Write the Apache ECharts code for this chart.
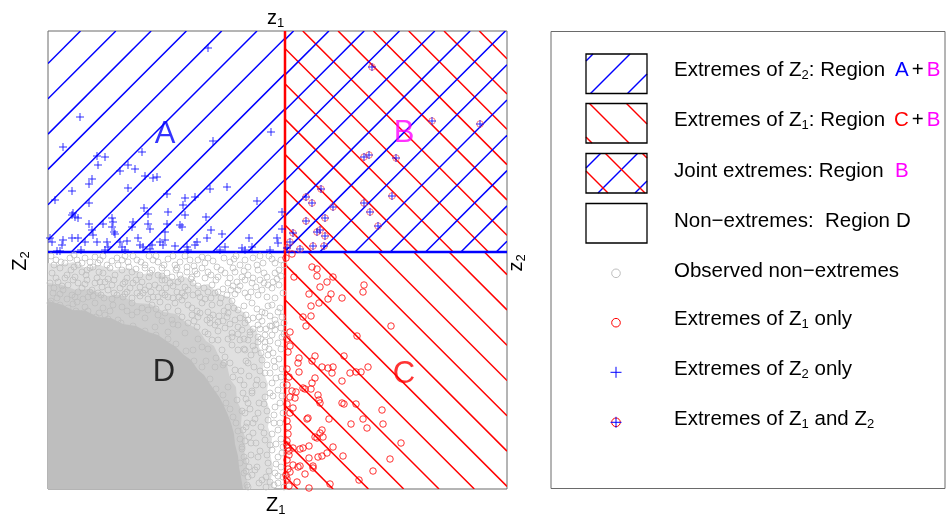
<!DOCTYPE html>
<html>
<head>
<meta charset="utf-8">
<script src="https://cdn.jsdelivr.net/npm/echarts@6/dist/echarts.min.js"></script>
<style>
html,body{margin:0;padding:0;background:#fff;}
#chart{width:950px;height:514px;}
</style>
</head>
<body>
<div id="chart"></div>
<script>
// Scale of both margins (rank-like units) and the extreme-value thresholds
const maxZ1 = 459;
const maxZ2 = 458;
const thresholdZ1 = 237;
const thresholdZ2 = 237;

// Outlines of the non-extreme sample where the points overlap completely (core),
// heavily (inner band) and partly (outer band)
const coreOutline = [
  [0,0],[0,188],[12,185],[25,179],[38,178],[50,172],[63,171],[75,165],[88,163],[100,157],[110,154],
  [120,147],[128,142],[136,134],[143,129],[150,119],[156,114],[162,105],[167,98],[172,91],[176,83],
  [180,74],[183,66],[186,55],[187,45],[190,33],[191,22],[193,12],[195,0]
];
const innerBandOutline = [
  [0,0],[0,206],[14,204],[28,199],[42,200],[58,193],[72,194],[88,186],[102,185],[116,177],[128,175],
  [140,165],[150,160],[158,148],[166,143],[172,130],[179,124],[182,110],[188,102],[189,88],[194,78],
  [193,64],[197,52],[196,38],[199,26],[198,12],[201,0]
];
const outerBandOutline = [
  [0,0],[0,226],[12,224],[25,227],[38,221],[52,224],[66,219],[80,221],[95,215],[110,217],[125,210],
  [138,212],[150,203],[160,205],[172,194],[182,192],[190,180],[197,176],[202,163],[209,158],[211,142],
  [216,132],[215,118],[220,105],[218,90],[222,78],[220,62],[224,50],[222,35],[225,22],[223,10],[226,0]
];

// Observed non-extremes around the dense bulk
const nonExtremes = [
  [17,226],[22,231],[29,229],[30,224],[37,231],[47,232],[50,226],[59,224],[69,231],[74,229],[80,227],[89,229],[97,224],[105,229],[110,227],[114,221],[132,227],[142,229],[150,229],[154,232],[160,231],[169,222],[182,227],[192,224],[200,222],[209,224],[215,226],[227,226],
  [4,216],[12,221],[19,214],[27,212],[34,217],[42,221],[55,216],[62,221],[67,214],[74,219],[84,217],[92,214],[97,221],[104,219],[110,214],[119,216],[124,212],[132,214],[144,212],[154,221],[170,212],[177,216],[187,217],[194,212],[200,214],[210,219],[219,212],[227,216],
  [2,206],[10,207],[17,211],[30,206],[39,209],[47,206],[57,207],[64,204],[77,207],[85,206],[94,207],[107,204],[114,209],[122,206],[130,207],[137,202],[145,206],[157,211],[164,204],[180,206],[189,207],[197,209],[204,206],[212,209],[220,204],[225,207],
  [5,196],[15,199],[24,194],[30,197],[40,192],[50,196],[60,199],[69,194],[79,197],[89,196],[97,199],[105,192],[114,196],[120,192],[129,197],[134,196],[140,199],[152,192],[160,197],[167,196],[179,194],[190,199],[197,196],[214,199],[224,201],[227,191],
  [2,186],[12,184],[20,181],[29,187],[37,182],[47,186],[55,181],[65,184],[74,182],[84,186],[94,181],[104,184],[112,187],[120,182],[127,186],[134,189],[144,181],[154,186],[164,184],[172,186],[180,182],[190,179],[204,186],[214,177],[224,184],[232,181],
  [144,174],[152,176],[159,169],[165,174],[170,167],[179,172],[187,169],[192,171],[205,171],[217,176],[227,169],[234,172],[4,174],[17,172],[30,176],[44,171],[57,174],[70,169],[84,174],[97,171],[110,174],[124,169],[134,172],
  [149,162],[157,157],[167,164],[177,161],[184,156],[194,159],[202,157],[210,164],[217,154],[227,159],[107,162],[120,157],[130,164],[137,156],
  [154,142],[164,149],[174,139],[184,144],[192,149],[197,139],[210,147],[217,142],[225,136],[230,146],
  [202,154],[210,152],[217,147],[224,154],[207,139],[214,129],[220,134],[227,122],[217,116],[209,109],[224,106],[230,99],[204,96],[217,92],[227,82],[210,76],[220,69],[230,59],[205,56],[217,49],[224,39],[210,32],[230,32],[220,26],[207,19],[227,16],[214,9],[230,6],[200,12],[194,42],[197,76],[192,109],[200,126],[190,139],[184,152],[170,149],[177,132],[187,119],[167,122],[180,102],[189,89],[185,72],[195,59],[192,26],[200,2],
  [196,140],[203,134],[198,128],[206,122],[193,118],[201,113],[208,104],[196,104],[204,98],[198,90],[211,86],[202,80],[194,78],[207,70],[199,66],[213,62],[201,52],[208,46],[197,48],[212,38],[203,34],[198,28],[209,22],[204,14],[196,16],[211,6],[218,12],[222,44],[216,56],[226,66],[219,78],[232,86],[222,96],[215,104],[233,112],[222,116],[212,118],[231,130],[221,140],[235,42],[233,22],[226,4],[234,152],[212,160],[224,163],
  [8,229],[26,234],[42,227],[55,233],[64,228],[85,233],[101,233],[120,230],[127,224],[137,233],[146,223],[176,231],[188,233],[205,231],[221,233],[233,229],
  [8,211],[23,219],[38,214],[49,211],[60,210],[79,211],[88,220],[101,212],[114,213],[128,219],[139,217],[149,215],[163,214],[182,211],[205,211],[233,213],
  [6,201],[20,204],[34,201],[44,199],[54,202],[72,201],[82,201],[92,202],[101,203],[118,201],[125,203],[150,203],[175,200],[185,203],[208,202],[231,204],
  [9,191],[19,190],[35,190],[45,193],[56,191],[64,190],[75,192],[84,191],[92,193],[100,190],[110,192],[125,191],[145,194],[157,190],[173,191],[184,188],[200,192],[219,192],
  [8,180],[25,185],[40,178],[51,176],[62,178],[79,178],[89,177],[100,179],[108,180],[117,176],[130,178],[140,184],[149,178],[160,177],[176,178],[196,183],[209,180],[220,183],
  [140,166],[146,168],[162,166],[175,168],[182,165],[197,166],[222,163],[233,161],[125,165],[114,168],
  [150,150],[160,155],[170,158],[180,150],[190,155],[200,149],[145,139],[160,140],[168,131],[175,124],[182,126],[158,128],
  [3,188],[14,181],[28,178],[35,176],[48,172],[60,170],[73,166],[85,163],[97,158],[108,154],[120,150],[128,145],[138,138],[146,128],[154,122],[162,110],[168,100],[175,94],[178,86],[182,80],[188,66],[190,58],[192,50],[194,40],[196,32],[198,18],[199,4],[201,22],[203,46],[198,62],[205,66],[200,86],[195,96],[185,112],[176,126],
  [3,233],[13,227],[34,226],[45,222],[52,229],[77,233],[93,227],[108,233],[125,233],[139,222],[157,226],[165,228],[186,230],[197,229],[212,233],[224,230],[236,224],
  [6,224],[26,222],[39,219],[51,217],[70,224],[81,222],[102,216],[116,224],[129,221],[147,218],[160,217],[173,219],[185,221],[196,218],[216,216],[231,219],
  [14,203],[25,209],[37,205],[52,207],[66,209],[75,205],[88,209],[111,201],[117,209],[133,210],[143,210],[156,201],[168,209],[183,199],[192,203],[216,206],[229,210],
  [12,195],[27,192],[42,197],[53,194],[66,196],[77,195],[95,196],[103,197],[117,194],[131,192],[137,193],[150,196],[163,191],[170,197],[187,195],[203,197],[210,194],[235,196],
  [180,176],[186,181],[198,174],[211,172],[200,169],[214,168],[222,173],[230,177],[236,166],[171,173],[162,171],[150,172],
  [190,162],[205,160],[218,160],[228,165],[236,155],[213,150],[222,148],[233,140],[196,150],[205,143],[213,136],[226,128],[234,120],[219,124],[228,111],[235,104],[225,93],[234,93],[216,85],[235,76],[226,74],[232,66],[224,55],[233,50],[228,45],[219,34],[234,36],[228,25],[221,18],[235,12],[230,13],[218,2],[236,2],[222,7]
];

// Extremes of Z1 only (region C)
const extremesZ1Only = [
  [238,231],[244,235],[264,222],[269,220],[269,213],[246,212],[285,212],[279,207],[316,204],[315,197],[272,202],[261,195],[283,195],[280,190],[294,191],[271,186],[263,183],[255,172],[263,173],[258,163],[343,163],[242,157],[309,153],[242,143],[296,133],[267,133],[264,128],[251,131],[250,126],[274,122],[280,121],[285,122],[284,116],[320,122],[313,117],[308,117],[302,116],[251,117],[267,111],[294,108],[264,106],[255,101],[257,100],[263,100],[239,104],[244,98],[248,97],[242,92],[247,91],[270,94],[271,89],[272,86],[294,86],[296,85],[308,85],[245,81],[242,76],[334,79],[260,71],[259,70],[281,70],[315,70],[239,68],[240,62],[335,65],[303,65],[319,61],[274,59],[272,56],[267,52],[269,51],[275,52],[353,46],[239,44],[240,41],[245,41],[252,40],[255,41],[261,43],[285,42],[241,34],[239,29],[261,31],[270,32],[274,33],[279,36],[295,33],[342,30],[245,24],[250,22],[252,23],[265,23],[242,17],[238,14],[257,15],[265,21],[325,18],[249,7],[261,1],[282,5],[311,9],
  [239,150],[240,137],[239,120],[241,112],[239,85],[240,55],[239,48],[241,38],[240,20],[239,10],[241,3]
];

// Extremes of Z2 only (region A)
const extremesZ2Only = [
  [160,441],[32,372],[15,342],[223,357],[165,348],[94,337],[49,333],[57,332],[50,324],[72,318],[80,324],[87,320],[97,313],[105,311],[109,312],[44,310],[41,305],[80,301],[179,302],[162,300],[24,298],[119,295],[7,289],[41,286],[137,291],[147,292],[135,284],[209,288],[96,281],[100,275],[25,276],[27,272],[30,271],[24,274],[120,277],[137,274],[64,271],[65,267],[158,272],[234,277],[41,265],[55,265],[85,267],[84,262],[100,265],[102,260],[119,265],[117,257],[132,264],[134,262],[64,262],[66,257],[67,255],[44,259],[45,254],[163,259],[174,255],[234,260],[2,251],[4,247],[15,249],[14,244],[24,251],[30,251],[37,247],[49,247],[59,247],[60,242],[72,247],[74,242],[79,248],[90,251],[92,244],[95,242],[104,244],[112,247],[117,249],[115,244],[127,243],[139,242],[147,244],[149,247],[159,251],[177,242],[194,241],[201,251],[204,242],[229,251],[230,246],[9,238],[12,238],[33,239],[57,239],[77,239],[102,240],[140,239],[172,239],[197,239],[222,239]
];

// Joint extremes of Z1 and Z2 (region B)
const jointExtremes = [
  [324,422],[384,368],[432,365],[316,332],[321,334],[348,331],[273,300],[258,292],[264,286],[285,282],[316,286],[344,293],[322,277],[258,268],[277,271],[330,263],[245,256],[269,257],[272,259],[277,253],[242,247],[239,241],[252,240],[265,243],[276,243]
];

// Region names and where they sit on the margins
const regionNames = ['A', 'B', 'C', 'D'];
const regionCentres = [[117,355],[356,356],[356,115],[116,117]];

const FONT = '"Liberation Sans", Arial, Helvetica, sans-serif';
const BLUE = '#0000ff', RED = '#ff0000', MAGENTA = '#ff00ff', GREY = '#bebebe';
const regionColours = [BLUE, MAGENTA, RED, '#000000'];

// Diagonal hatching clipped to a pixel rectangle
function hatchSegments(L, T, R, B, dir, anchor, spacing) {
  const segs = [];
  if (dir === '/') {
    const cMin = L + T, cMax = R + B;
    for (let c = anchor + Math.ceil((cMin - anchor) / spacing) * spacing; c <= cMax; c += spacing) {
      const xs = Math.max(L, c - B), xe = Math.min(R, c - T);
      if (xe - xs > 0.5) segs.push([xs, c - xs, xe, c - xe]);
    }
  } else {
    const cMin = L - B, cMax = R - T;
    for (let c = anchor + Math.ceil((cMin - anchor) / spacing) * spacing; c <= cMax; c += spacing) {
      const xs = Math.max(L, c + T), xe = Math.min(R, c + B);
      if (xe - xs > 0.5) segs.push([xs, xs - c, xe, xe - c]);
    }
  }
  return segs;
}
function hatchLines(L, T, R, B, dir, anchor, spacing, colour, width) {
  return hatchSegments(L, T, R, B, dir, anchor, spacing).map(s => ({
    type: 'line', silent: true,
    shape: { x1: s[0], y1: s[1], x2: s[2], y2: s[3] },
    style: { stroke: colour, lineWidth: width }
  }));
}

// Hatch layers over the extreme regions (A, B twice, C)
const plotHatch = [
  { x0: 0, x1: thresholdZ1, y0: thresholdZ2, y1: maxZ2, dir: '/', colour: BLUE, anchor: 288 },
  { x0: thresholdZ1, x1: maxZ1, y0: thresholdZ2, y1: maxZ2, dir: '\\', colour: RED, anchor: 60 },
  { x0: thresholdZ1, x1: maxZ1, y0: thresholdZ2, y1: maxZ2, dir: '/', colour: BLUE, anchor: 607 },
  { x0: thresholdZ1, x1: maxZ1, y0: 0, y1: thresholdZ2, dir: '\\', colour: RED, anchor: -50 }
];
const HATCH_SPACING = 35.3;
const HATCH_WIDTH = 1.5;

const PLUS = 'path://M0,5L10,5M5,0L5,10';
const hollow = colour => ({ color: 'rgba(0,0,0,0)', borderColor: colour, borderWidth: 1 });

// ---------- legend panel ----------
function sub(t) { return '{s|' + t + '}'; }
function mainRich(extra) {
  return Object.assign({
    t: { fontSize: 20.5, fontFamily: FONT, fill: '#000', color: '#000' },
    s: { fontSize: 13, fontFamily: FONT, fill: '#000', color: '#000', padding: [10, 0, 0, 0] }
  }, extra || {});
}
function textEl(x, y, text, rich, opts) {
  return Object.assign({
    type: 'text', x: x, y: y, silent: true,
    style: { text: text, rich: rich, align: 'left', textAlign: 'left', verticalAlign: 'middle', textVerticalAlign: 'middle', font: '20.5px ' + FONT, fill: '#000' }
  }, opts || {});
}
const letterRich = mainRich({
  a: { fontSize: 20.5, fontFamily: FONT, fill: BLUE, color: BLUE },
  b: { fontSize: 20.5, fontFamily: FONT, fill: MAGENTA, color: MAGENTA },
  c: { fontSize: 20.5, fontFamily: FONT, fill: RED, color: RED },
  p: { fontSize: 20.5, fontFamily: FONT, fill: '#000', color: '#000', padding: [0, 3, 0, 3] }
});

const legendTextX = 674;
const legendRowsY = [70, 120, 171, 221, 271, 319, 369, 419];
const legendTexts = [
  '{t|Extremes of Z}' + sub('2') + '{t|: Region}',
  '{t|Extremes of Z}' + sub('1') + '{t|: Region}',
  '{t|Joint extremes: Region}',
  '{t|Non\u2212extremes:  Region}',
  '{t|Observed non\u2212extremes}',
  '{t|Extremes of Z}' + sub('1') + '{t| only}',
  '{t|Extremes of Z}' + sub('2') + '{t| only}',
  '{t|Extremes of Z}' + sub('1') + '{t| and Z}' + sub('2')
];
const legendLetters = ['{a|A}{p|+}{b|B}', '{c|C}{p|+}{b|B}', '{b|B}', '{t|D}'];
const legendLetterX = [895, 894, 895, 896];

const boxX = 586, boxW = 61, boxH = 39.5;
const boxTops = [54, 103.5, 153.5, 203.5];
const boxHatch = [
  [{ dir: '/', colour: BLUE, anchor: 684 }],
  [{ dir: '\\', colour: RED, anchor: 486 }],
  [{ dir: '/', colour: BLUE, anchor: 791 }, { dir: '\\', colour: RED, anchor: 452 }],
  []
];

const graphic = [];
graphic.push({ type: 'rect', silent: true, shape: { x: 551, y: 31.5, width: 394, height: 457 }, style: { fill: 'none', stroke: '#6a6a6a', lineWidth: 1 } });
boxTops.forEach((top, i) => {
  boxHatch[i].forEach(h => {
    hatchLines(boxX, top, boxX + boxW, top + boxH, h.dir, h.anchor, 37, h.colour, HATCH_WIDTH).forEach(l => graphic.push(l));
  });
  graphic.push({ type: 'rect', silent: true, shape: { x: boxX, y: top, width: boxW, height: boxH }, style: { fill: 'none', stroke: '#000', lineWidth: 1.3 } });
});
legendTexts.forEach((t, i) => graphic.push(textEl(legendTextX, legendRowsY[i], t, mainRich())));
legendLetters.forEach((t, i) => graphic.push(textEl(legendLetterX[i], legendRowsY[i], t, letterRich)));

// legend markers
const symX = 616;
graphic.push({ type: 'circle', silent: true, shape: { cx: symX, cy: 273.3, r: 4.3 }, style: { fill: 'none', stroke: GREY, lineWidth: 1 } });
graphic.push({ type: 'circle', silent: true, shape: { cx: symX, cy: 322.7, r: 4.3 }, style: { fill: 'none', stroke: RED, lineWidth: 1 } });
function plusEl(cx, cy, h) {
  return [
    { type: 'line', silent: true, shape: { x1: cx - h, y1: cy, x2: cx + h, y2: cy }, style: { stroke: BLUE, lineWidth: 1 } },
    { type: 'line', silent: true, shape: { x1: cx, y1: cy - h, x2: cx, y2: cy + h }, style: { stroke: BLUE, lineWidth: 1 } }
  ];
}
plusEl(symX, 372.3, 5.5).forEach(e => graphic.push(e));
graphic.push({ type: 'circle', silent: true, shape: { cx: symX, cy: 422.3, r: 4.3 }, style: { fill: 'none', stroke: RED, lineWidth: 1 } });
plusEl(symX, 422.3, 5.5).forEach(e => graphic.push(e));

// axis captions
const capRich = {
  t: { fontSize: 20, fontFamily: FONT, fill: '#000', color: '#000' },
  s: { fontSize: 13, fontFamily: FONT, fill: '#000', color: '#000', padding: [10, 0, 0, 0] }
};
function rotatedCaption(x, y, text) {
  return { type: 'text', x: x, y: y, rotation: Math.PI / 2, silent: true,
    style: { text: text, rich: capRich, align: 'center', textAlign: 'center', verticalAlign: 'middle', textVerticalAlign: 'middle' } };
}
graphic.push(textEl(267, 18, '{t|z}{s|1}', capRich));
graphic.push(textEl(266, 505, '{t|Z}{s|1}', capRich));
graphic.push(rotatedCaption(20, 261, '{t|Z}{s|2}'));
graphic.push(rotatedCaption(516, 263, '{t|z}{s|2}'));

function polygonSeries(outline, fill) {
  return {
    type: 'custom', silent: true, clip: true,
    data: [[0, 0]],
    renderItem: (params, api) => ({
      type: 'polygon',
      shape: { points: outline.map(p => api.coord(p)) },
      style: { fill: fill }
    })
  };
}

const chart = echarts.init(document.getElementById('chart'), null, { renderer: 'canvas' });
chart.setOption({
  animation: false,
  backgroundColor: '#fff',
  grid: { left: 48, top: 31, width: 459, height: 458, show: true, borderColor: '#6a6a6a', borderWidth: 1, backgroundColor: 'rgba(0,0,0,0)' },
  xAxis: { type: 'value', min: 0, max: maxZ1, axisLine: { show: false }, axisTick: { show: false }, axisLabel: { show: false }, splitLine: { show: false } },
  yAxis: { type: 'value', min: 0, max: maxZ2, axisLine: { show: false }, axisTick: { show: false }, axisLabel: { show: false }, splitLine: { show: false } },
  series: [
    {
      type: 'custom', silent: true, clip: true,
      data: plotHatch.map(h => [h.x0, h.y0, h.x1, h.y1]),
      renderItem: (params, api) => {
        const h = plotHatch[params.dataIndex];
        const tl = api.coord([api.value(0), api.value(3)]);
        const br = api.coord([api.value(2), api.value(1)]);
        return { type: 'group', children: hatchLines(tl[0], tl[1], br[0], br[1], h.dir, h.anchor, HATCH_SPACING, h.colour, HATCH_WIDTH) };
      }
    },
    polygonSeries(outerBandOutline, '#e0e0e0'),
    polygonSeries(innerBandOutline, '#cecece'),
    polygonSeries(coreOutline, GREY),
    {
      type: 'scatter', silent: true, symbol: 'circle', symbolSize: 6,
      itemStyle: hollow(GREY), data: nonExtremes
    },
    {
      type: 'custom', silent: true,
      data: [[thresholdZ1, thresholdZ2]],
      renderItem: (params, api) => {
        const cs = params.coordSys;
        const p = api.coord([api.value(0), api.value(1)]);
        return { type: 'group', children: [
          { type: 'line', shape: { x1: cs.x, y1: p[1], x2: cs.x + cs.width, y2: p[1] }, style: { stroke: BLUE, lineWidth: 2.5 } },
          { type: 'line', shape: { x1: p[0], y1: cs.y, x2: p[0], y2: cs.y + cs.height }, style: { stroke: RED, lineWidth: 2.5 } }
        ] };
      }
    },
    {
      type: 'scatter', silent: true, symbol: 'circle', symbolSize: 6.5,
      itemStyle: hollow(RED), data: extremesZ1Only
    },
    {
      type: 'scatter', silent: true, symbol: PLUS, symbolSize: 8,
      itemStyle: hollow(BLUE), data: extremesZ2Only
    },
    {
      type: 'scatter', silent: true, symbol: 'circle', symbolSize: 6.5,
      itemStyle: { color: 'rgba(0,0,0,0)', borderColor: '#ff5a5a', borderWidth: 1 }, data: jointExtremes
    },
    {
      type: 'scatter', silent: true, symbol: PLUS, symbolSize: 8,
      itemStyle: hollow(BLUE), data: jointExtremes
    },
    {
      type: 'scatter', silent: true, symbolSize: 1,
      itemStyle: { color: 'rgba(0,0,0,0)' },
      data: regionNames.map((n, i) => ({
        name: n, value: regionCentres[i],
        label: { show: true, position: 'inside', formatter: '{b}', color: regionColours[i], fontSize: 31, fontFamily: FONT }
      }))
    }
  ],
  graphic: graphic
});
</script>
</body>
</html>
